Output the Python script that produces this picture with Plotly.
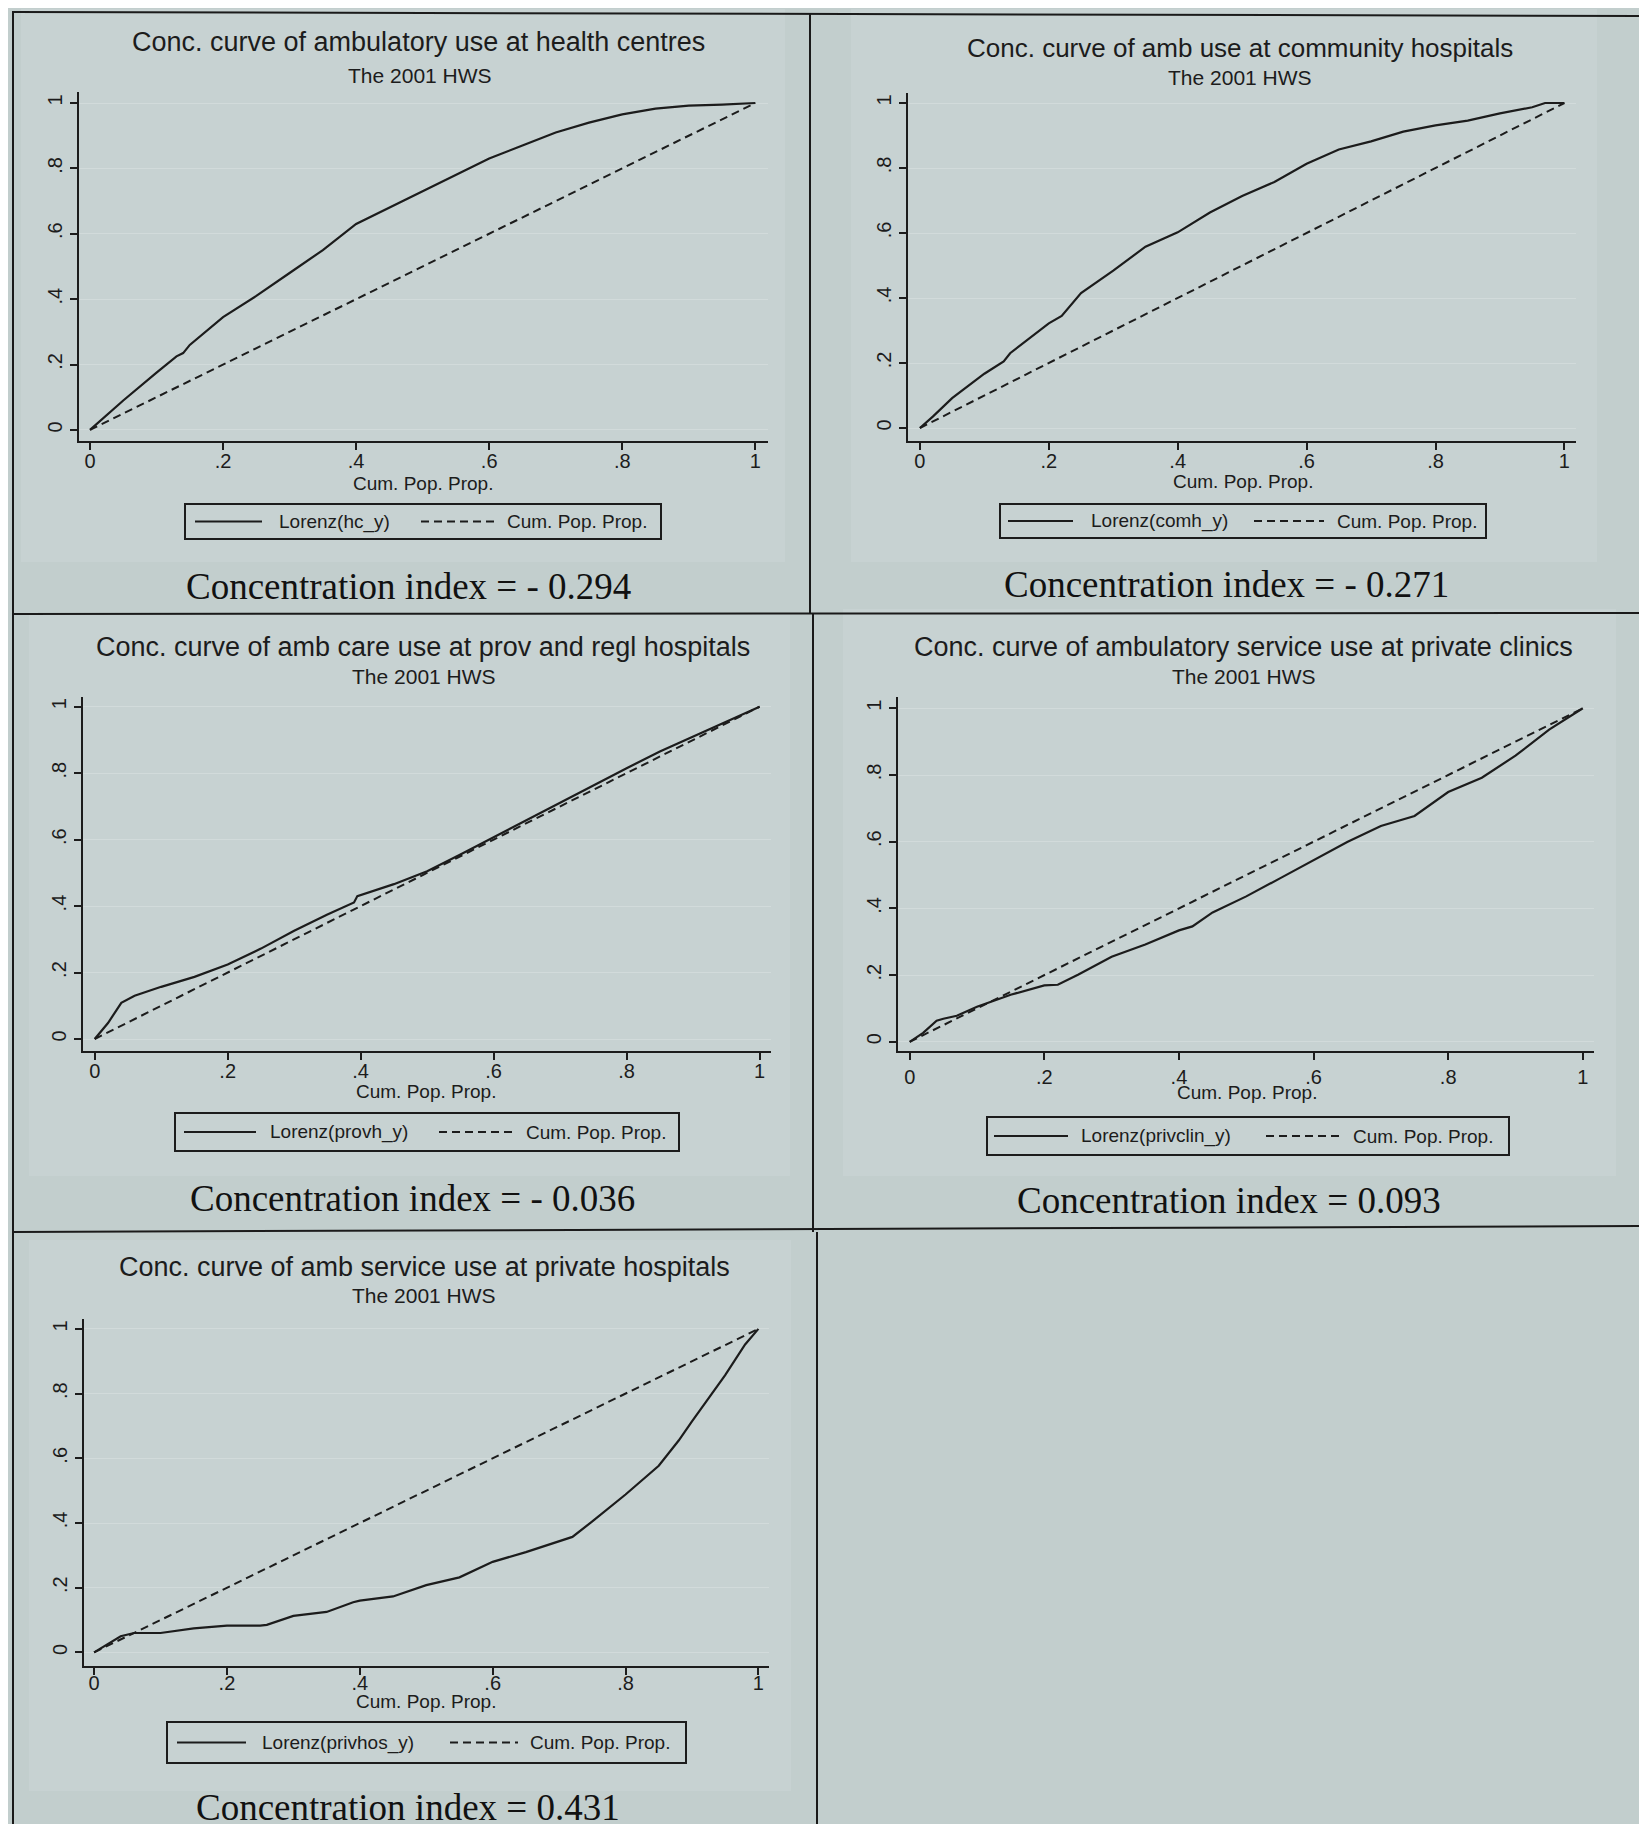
import plotly.graph_objects as go

W, H = 1647, 1824

# ---------------- data ----------------
tick_vals = [0, 0.2, 0.4, 0.6, 0.8, 1]
tick_text = ["0", ".2", ".4", ".6", ".8", "1"]

hc_x = [0, .05, .10, .13, .14, .15, .20, .25, .30, .35, .40, .45, .50, .55, .60, .65, .70, .75, .80, .85, .90, .95, 1.0]
hc_y = [0, .09, .175, .225, .235, .26, .345, .41, .48, .55, .63, .68, .73, .78, .83, .87, .91, .94, .965, .983, .992, .995, 1.0]

comh_x = [0, .02, .05, .10, .13, .14, .20, .22, .25, .30, .35, .40, .45, .50, .55, .60, .65, .70, .75, .80, .85, .90, .95, .97, 1.0]
comh_y = [0, .035, .092, .167, .205, .23, .322, .345, .415, .484, .558, .602, .663, .714, .757, .813, .857, .882, .912, .931, .946, .968, .987, 1.0, 1.0]

provh_x = [0, .02, .04, .06, .10, .15, .20, .25, .30, .35, .39, .395, .45, .50, .55, .60, .65, .70, .75, .80, .85, .90, .95, 1.0]
provh_y = [0, .048, .109, .13, .157, .187, .224, .272, .326, .375, .411, .43, .466, .505, .555, .607, .66, .712, .765, .815, .865, .91, .955, 1.0]

privclin_x = [0, .02, .04, .05, .07, .10, .15, .20, .22, .25, .30, .35, .40, .42, .45, .50, .55, .60, .65, .70, .75, .80, .85, .90, .95, 1.0]
privclin_y = [0, .027, .063, .069, .078, .105, .141, .169, .171, .201, .255, .292, .334, .346, .388, .436, .49, .545, .599, .647, .677, .749, .792, .858, .936, 1.0]

privhos_x = [0, .02, .04, .06, .10, .15, .20, .25, .26, .30, .35, .39, .40, .45, .50, .55, .60, .65, .70, .72, .75, .80, .85, .88, .90, .95, .98, 1.0]
privhos_y = [0, .024, .05, .06, .06, .074, .083, .083, .085, .113, .125, .155, .16, .173, .208, .232, .28, .31, .345, .357, .405, .488, .577, .655, .714, .857, .952, 1.0]

diag_x = [0, 1]
diag_y = [0, 1]

titles = [
    "Conc. curve of ambulatory use at health centres",
    "Conc. curve of amb use at community hospitals",
    "Conc. curve of amb care use at prov and regl hospitals",
    "Conc. curve of ambulatory service use at private clinics",
    "Conc. curve of amb service use at private hospitals",
]
subtitle = "The 2001 HWS"
lorenz_names = ["Lorenz(hc_y)", "Lorenz(comh_y)", "Lorenz(provh_y)", "Lorenz(privclin_y)", "Lorenz(privhos_y)"]
diag_name = "Cum. Pop. Prop."
conc_labels = ["Concentration index = - 0.294", "Concentration index = - 0.271",
               "Concentration index = - 0.036", "Concentration index = 0.093",
               "Concentration index = 0.431"]
series_x = [hc_x, comh_x, provh_x, privclin_x, privhos_x]
series_y = [hc_y, comh_y, provh_y, privclin_y, privhos_y]

# ---------------- layout geometry (pixels) ----------------
geo = [
    dict(xl=78.5, xr=768, yt=91, yb=440, x0p=90.0, x1p=755.3, y0p=428.9, y1p=102.0,
         title_y=41.5, title_x=418, tsize=27, sub_y=74, sub_x=420, xt_y=482, xt_x=423, stand=-6,
         box=(185, 661, 503, 538), s1=(195, 262), t1=277, s2=(421, 495), t2=505,
         ci_x=408, ci_y=585, region=(21, 785, 8, 561)),
    dict(xl=908, xr=1576, yt=91.7, yb=440, x0p=919.9, x1p=1564.4, y0p=427, y1p=102,
         title_y=47.4, title_x=1240, tsize=26, sub_y=77, sub_x=1240, xt_y=480, xt_x=1243, stand=-6,
         box=(1000, 1486, 503, 537), s1=(1008, 1073), t1=1089, s2=(1254, 1324), t2=1335,
         ci_x=1226, ci_y=583, region=(851, 1597, 8, 561)),
    dict(xl=82.6, xr=770.5, yt=695.6, yb=1050, x0p=94.7, x1p=759.6, y0p=1038, y1p=705.7,
         title_y=646, title_x=423, tsize=27, sub_y=675.5, sub_x=424, xt_y=1090, xt_x=426, stand=-6,
         box=(175, 679, 1112, 1150), s1=(184, 256), t1=268, s2=(439, 515), t2=524,
         ci_x=412, ci_y=1197, region=(29, 790, 612, 1175)),
    dict(xl=898.3, xr=1594, yt=696.4, yb=1050, x0p=909.7, x1p=1582.8, y0p=1040.8, y1p=707.3,
         title_y=646, title_x=1243, tsize=27, sub_y=675.5, sub_x=1244, xt_y=1091, xt_x=1247, stand=0,
         box=(987, 1509, 1116, 1154), s1=(994, 1068), t1=1079, s2=(1266, 1341), t2=1351,
         ci_x=1229, ci_y=1199, region=(843, 1616, 608, 1175)),
    dict(xl=83.7, xr=768.8, yt=1318.2, yb=1664.9, x0p=94.1, x1p=758.4, y0p=1651.4, y1p=1327.9,
         title_y=1266, title_x=424, tsize=27, sub_y=1294, sub_x=424, xt_y=1700, xt_x=426, stand=-9,
         box=(167, 686, 1721, 1762), s1=(177, 246), t1=260, s2=(450, 518), t2=528,
         ci_x=408, ci_y=1806, region=(29, 791, 1239, 1790)),
]

DX, DY = 8, 7  # global alignment correction


def px(x):
    return (x - DX) / W


def py(y):
    return 1 - (y - DY) / H


INK = "#1c1c1c"
PAGE = "#c2cecd"
REGION = "#c7d2d2"
PLOT = "#cad5d5"
GRID = "#d2dbdb"

fig = go.Figure()
shapes = []
annotations = []

for i, g in enumerate(geo):
    n = "" if i == 0 else str(i + 1)
    xa, ya = "x" + n, "y" + n
    fig.add_trace(go.Scatter(x=series_x[i], y=series_y[i], mode="lines", name=lorenz_names[i],
                             line=dict(color=INK, width=2.2), xaxis=xa, yaxis=ya, showlegend=False))
    fig.add_trace(go.Scatter(x=diag_x, y=diag_y, mode="lines", name=diag_name,
                             line=dict(color=INK, width=2, dash="8px,5px"), xaxis=xa, yaxis=ya,
                             showlegend=False))
    xr = [(g["xl"] - g["x0p"]) / (g["x1p"] - g["x0p"]), (g["xr"] - g["x0p"]) / (g["x1p"] - g["x0p"])]
    yr = [(g["y0p"] - g["yb"]) / (g["y0p"] - g["y1p"]), (g["y0p"] - g["yt"]) / (g["y0p"] - g["y1p"])]
    axis_common = dict(showline=True, linecolor=INK, linewidth=2, ticks="outside", ticklen=7,
                       tickwidth=2, tickcolor=INK, tickvals=tick_vals, ticktext=tick_text,
                       zeroline=False, tickfont=dict(family="Liberation Sans", size=20, color=INK))
    fig.update_layout(**{
        ("xaxis" + n): dict(domain=[px(g["xl"]), px(g["xr"])], range=xr, anchor=ya,
                           showgrid=False, ticklabelstandoff=g["stand"], **axis_common),
        ("yaxis" + n): dict(domain=[py(g["yb"]), py(g["yt"])], range=yr, anchor=xa,
                           showgrid=True, gridcolor=GRID, gridwidth=1, tickangle=-90,
                           **axis_common),
    })
    rx0, rx1, ry0, ry1 = g["region"]
    shapes.append(dict(type="rect", xref="paper", yref="paper", x0=px(rx0), x1=px(rx1),
                       y0=py(ry1), y1=py(ry0), fillcolor=REGION, line=dict(width=0), layer="below"))
    annotations.append(dict(text=titles[i], x=px(g["title_x"]), y=py(g["title_y"]), xref="paper",
                            yref="paper", xanchor="center", yanchor="middle", showarrow=False,
                            font=dict(family="Liberation Sans", size=g["tsize"], color=INK)))
    annotations.append(dict(text=subtitle, x=px(g["sub_x"]), y=py(g["sub_y"]), xref="paper",
                            yref="paper", xanchor="center", yanchor="middle", showarrow=False,
                            font=dict(family="Liberation Sans", size=21, color=INK)))
    annotations.append(dict(text=diag_name, x=px(g["xt_x"]), y=py(g["xt_y"]), xref="paper",
                            yref="paper", xanchor="center", yanchor="middle", showarrow=False,
                            font=dict(family="Liberation Sans", size=19, color=INK)))
    bx0, bx1, by0, by1 = g["box"]
    shapes.append(dict(type="rect", xref="paper", yref="paper", x0=px(bx0), x1=px(bx1),
                       y0=py(by1), y1=py(by0), line=dict(color=INK, width=2), fillcolor=REGION))
    ymid = (by0 + by1) / 2
    shapes.append(dict(type="line", xref="paper", yref="paper", x0=px(g["s1"][0]), x1=px(g["s1"][1]),
                       y0=py(ymid), y1=py(ymid), line=dict(color=INK, width=2)))
    shapes.append(dict(type="line", xref="paper", yref="paper", x0=px(g["s2"][0]), x1=px(g["s2"][1]),
                       y0=py(ymid), y1=py(ymid), line=dict(color=INK, width=2, dash="8px,5px")))
    annotations.append(dict(text=lorenz_names[i], x=px(g["t1"]), y=py(ymid), xref="paper",
                            yref="paper", xanchor="left", yanchor="middle", showarrow=False,
                            font=dict(family="Liberation Sans", size=19, color=INK)))
    annotations.append(dict(text=diag_name, x=px(g["t2"]), y=py(ymid), xref="paper",
                            yref="paper", xanchor="left", yanchor="middle", showarrow=False,
                            font=dict(family="Liberation Sans", size=19, color=INK)))
    annotations.append(dict(text=conc_labels[i], x=px(g["ci_x"]), y=py(g["ci_y"]), xref="paper",
                            yref="paper", xanchor="center", yanchor="middle", showarrow=False,
                            font=dict(family="Liberation Serif", size=37, color="#111111")))


def border(x0, x1, y0, y1=None):
    y1 = y0 if y1 is None else y1
    shapes.append(dict(type="line", xref="paper", yref="paper", x0=px(x0), x1=px(x1), y0=py(y0),
                       y1=py(y1), line=dict(color="#1a1a1a", width=2)))


border(12, 1652, 11, 15)        # top
border(12, 1655, 613, 612)      # row1/row2
border(14, 1655, 1231, 1225)    # row2/row3
border(13, 13, 11, 1831)        # left edge
border(810, 810, 13, 613)       # divider row1
border(813, 813, 613, 1231)     # divider row2
border(817, 817, 1231, 1831)    # divider row3
border(1652, 1652, 15, 613)     # right edge row1

fig.update_layout(width=W, height=H, margin=dict(l=0, r=0, t=0, b=0),
                  paper_bgcolor=PAGE, plot_bgcolor=PLOT, shapes=shapes, annotations=annotations,
                  showlegend=False)

fig.write_html("out.html")
